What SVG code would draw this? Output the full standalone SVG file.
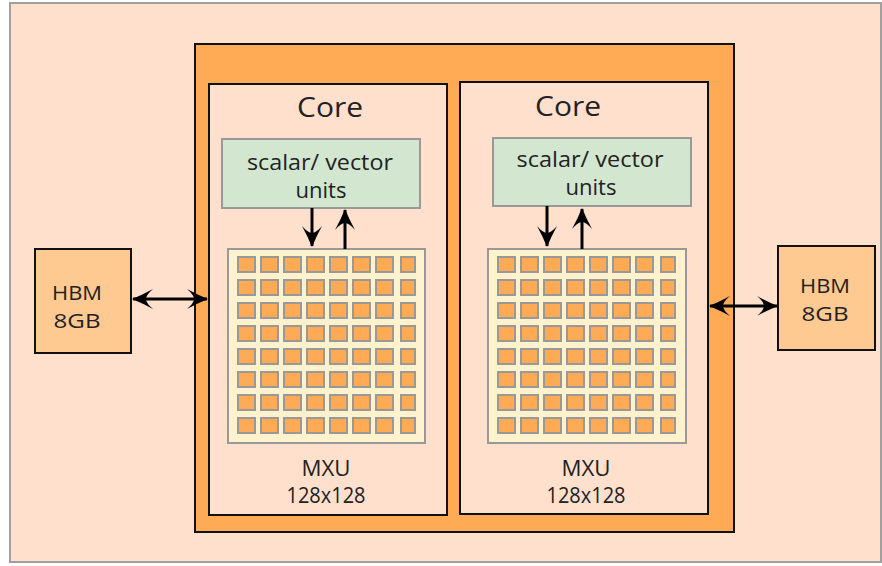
<svg xmlns="http://www.w3.org/2000/svg" width="882" height="566" viewBox="0 0 882 566">
<style>
text{font-family:"Open Sans","Liberation Sans",sans-serif;fill:#222;text-anchor:middle}
.core{fill:#FFE0CC;stroke:#111;stroke-width:2}
.su{fill:#D3E6D0;stroke:#999;stroke-width:2}
.grid{fill:#FFF2CC;stroke:#999;stroke-width:2}
.cell{fill:#FFAA55;stroke:#999;stroke-width:2}
.hbm{fill:#FFC992;stroke:#111;stroke-width:2}
.ln{stroke:#000;stroke-width:3;fill:none}
</style>
<defs>
<marker id="ah" markerUnits="userSpaceOnUse" markerWidth="24" markerHeight="22" viewBox="-22 -11 24 22" refX="0" refY="0" orient="auto-start-reverse">
<path d="M1,0 Q-9,-4 -20,-10 Q-13,-4 -13,0 Q-13,4 -20,10 Q-9,4 1,0 Z" fill="#000"/>
</marker>
</defs>
<rect x="10" y="3" width="871" height="559" fill="#FFE0CC" stroke="#A0A0A0" stroke-width="2"/>
<g id="chip">
<rect x="195" y="44" width="539" height="488" fill="#FFAA55" stroke="#111" stroke-width="2"/>
</g>
<g id="core1">
<rect class="core" x="209" y="84" width="238" height="431"/>
<text x="330" y="117" font-size="28" textLength="66" lengthAdjust="spacingAndGlyphs">Core</text>
</g>
<g id="core2">
<rect class="core" x="460" y="82" width="248" height="432"/>
<text x="568" y="116" font-size="28" textLength="66" lengthAdjust="spacingAndGlyphs">Core</text>
</g>
<g id="su1">
<rect class="su" x="222" y="139" width="198" height="69"/>
<text x="320" y="170" font-size="21" textLength="146" lengthAdjust="spacingAndGlyphs">scalar/ vector</text>
<text x="321" y="198" font-size="21" textLength="51" lengthAdjust="spacingAndGlyphs">units</text>
</g>
<g id="su2">
<rect class="su" x="493" y="138" width="198" height="68"/>
<text x="590" y="167" font-size="21" textLength="147" lengthAdjust="spacingAndGlyphs">scalar/ vector</text>
<text x="591" y="195" font-size="21" textLength="51" lengthAdjust="spacingAndGlyphs">units</text>
</g>
<g id="mxu1">
<rect class="grid" x="228" y="249" width="197" height="194"/>
<g id="g1">
<g transform="translate(238,257)">
<rect class="cell" x="0" y="0" width="17" height="15"/><rect class="cell" x="23" y="0" width="17" height="15"/><rect class="cell" x="46" y="0" width="17" height="15"/><rect class="cell" x="69" y="0" width="17" height="15"/><rect class="cell" x="92" y="0" width="17" height="15"/><rect class="cell" x="115" y="0" width="17" height="15"/><rect class="cell" x="138" y="0" width="17" height="15"/><rect class="cell" x="163" y="0" width="14" height="15"/>
</g>
</g>
<use href="#g1" y="23"/><use href="#g1" y="46"/><use href="#g1" y="69"/><use href="#g1" y="92"/><use href="#g1" y="115"/><use href="#g1" y="138"/><use href="#g1" y="161"/>
<text x="326" y="476" font-size="21" textLength="49" lengthAdjust="spacingAndGlyphs">MXU</text>
<text x="326" y="503" font-size="21" textLength="79" lengthAdjust="spacingAndGlyphs">128x128</text>
</g>
<g id="mxu2">
<rect class="grid" x="488" y="249" width="198" height="194"/>
<use href="#g1" x="260"/><use href="#g1" x="260" y="23"/><use href="#g1" x="260" y="46"/><use href="#g1" x="260" y="69"/><use href="#g1" x="260" y="92"/><use href="#g1" x="260" y="115"/><use href="#g1" x="260" y="138"/><use href="#g1" x="260" y="161"/>
<text x="586" y="476" font-size="21" textLength="49" lengthAdjust="spacingAndGlyphs">MXU</text>
<text x="586" y="503" font-size="21" textLength="79" lengthAdjust="spacingAndGlyphs">128x128</text>
</g>
<g id="hbm1">
<rect class="hbm" x="35" y="249" width="96" height="104"/>
<text x="77" y="300" font-size="20" textLength="50" lengthAdjust="spacingAndGlyphs">HBM</text>
<text x="77" y="328" font-size="20" textLength="47" lengthAdjust="spacingAndGlyphs">8GB</text>
</g>
<g id="hbm2">
<rect class="hbm" x="778" y="246" width="97" height="104"/>
<text x="825" y="293" font-size="20" textLength="50" lengthAdjust="spacingAndGlyphs">HBM</text>
<text x="825" y="321" font-size="20" textLength="47" lengthAdjust="spacingAndGlyphs">8GB</text>
</g>
<g id="connectors">
<line class="ln" x1="133" y1="299" x2="207" y2="299" marker-start="url(#ah)" marker-end="url(#ah)"/>
<line class="ln" x1="710" y1="306" x2="777" y2="306" marker-start="url(#ah)" marker-end="url(#ah)"/>
<line class="ln" x1="312" y1="208" x2="312" y2="246" marker-end="url(#ah)"/>
<line class="ln" x1="345" y1="249" x2="345" y2="210" marker-end="url(#ah)"/>
<line class="ln" x1="547" y1="206" x2="547" y2="246" marker-end="url(#ah)"/>
<line class="ln" x1="582" y1="249" x2="582" y2="209" marker-end="url(#ah)"/>
</g>
</svg>
